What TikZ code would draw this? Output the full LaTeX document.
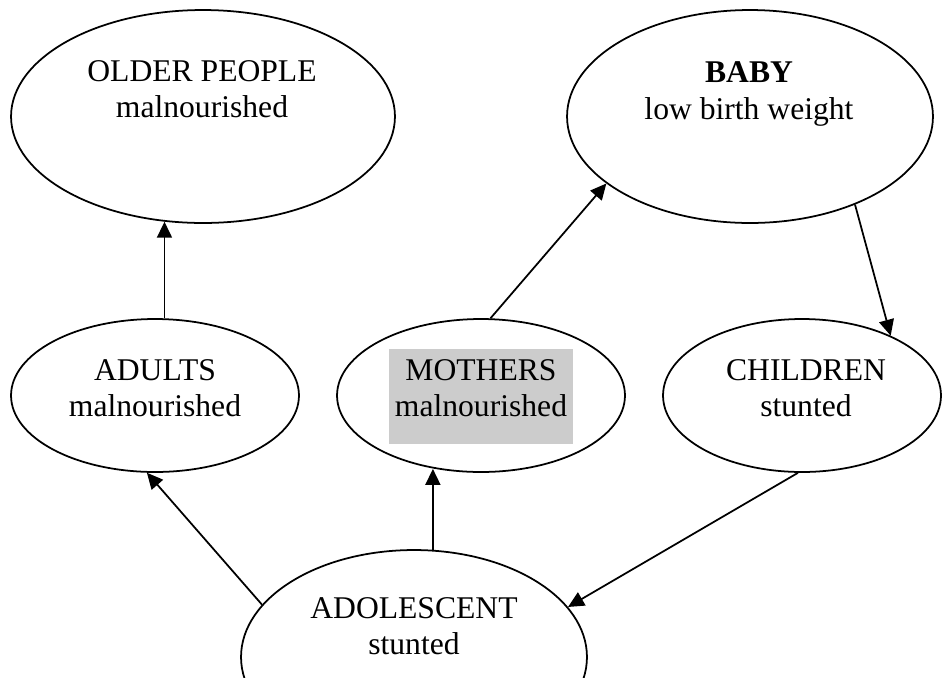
\documentclass[tikz,border=0pt]{standalone}
\usepackage{fontspec}
\setmainfont{Liberation Serif}
\usepackage{xcolor}
\usetikzlibrary{shapes.geometric,arrows.meta}

\begin{document}
\begin{tikzpicture}[x=0.02cm,y=-0.02cm,
  stage/.style={ellipse,draw,line width=1pt,inner sep=0pt},
  lbl/.style={align=center,inner sep=0pt,font=\fontsize{18pt}{20.6pt}\selectfont},
  arr/.style={line width=1pt,-{Triangle[length=0.32cm,width=0.3cm]}}]
\clip (0,0) rectangle (943,677);
\node[stage,minimum width=7.68cm,minimum height=4.26cm] (older) at (203,116.5) {};
\node[stage,minimum width=7.32cm,minimum height=4.26cm] (baby) at (750,116.5) {};
\node[stage,minimum width=5.76cm,minimum height=3.06cm] (adults) at (155,395.5) {};
\node[stage,minimum width=5.76cm,minimum height=3.06cm] (mothers) at (481,395.5) {};
\node[stage,minimum width=5.56cm,minimum height=3.06cm] (children) at (802,395.5) {};
\node[stage,minimum width=6.92cm,minimum height=4.28cm] (adolescent) at (414,657) {};
\fill[black!20] (389,349) rectangle (573,444);
\node[lbl] (olderT) at (202,89.5) {OLDER PEOPLE\\malnourished};
\node[lbl] (babyT) at (749,94) {\textbf{BABY}\\low birth weight};
\node[lbl] (adultsT) at (155,388.5) {ADULTS\\malnourished};
\node[lbl] (mothersT) at (481,388.5) {MOTHERS\\malnourished};
\node[lbl] (childrenT) at (806,388.5) {CHILDREN\\stunted};
\node[lbl] (adolescentT) at (414,626.5) {ADOLESCENT\\stunted};
\draw[arr] (adults.83) -- (adults.83 |- older.250);
\draw[arr] (mothers.83) -- (baby.205);
\draw[arr] (baby.320) -- (children.34);
\draw[arr] (children.267) -- (adolescent.18);
\draw[arr] (adolescent.80) -- (adolescent.80 |- mothers.238);
\draw[arr] (adolescent.161) -- (adults.264);
\end{tikzpicture}
\end{document}
